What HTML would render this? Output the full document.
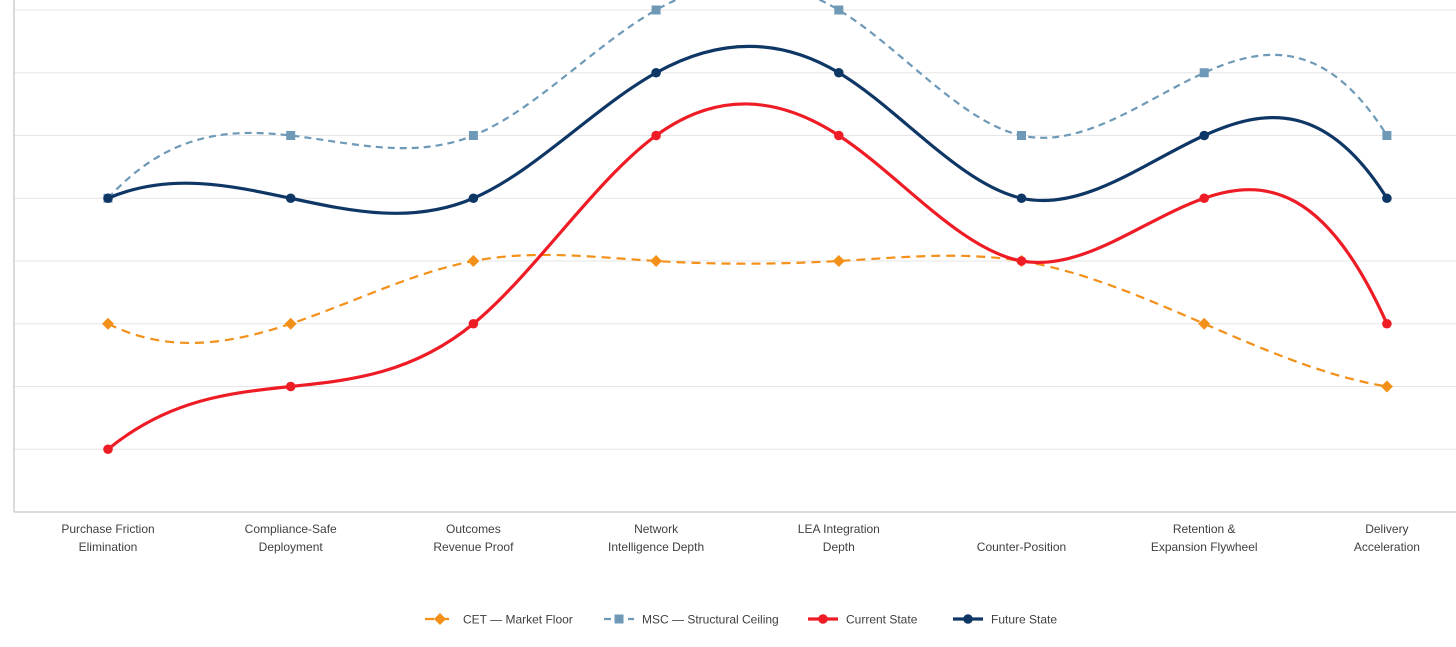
<!DOCTYPE html>
<html><head><meta charset="utf-8"><style>
html,body{margin:0;padding:0;background:#fff;}
svg{display:block;font-family:"Liberation Sans",sans-serif;}
</style></head><body>
<svg id="chart" width="1456" height="647"></svg>
<script>
const categories = [["Purchase Friction","Elimination"],["Compliance-Safe","Deployment"],["Outcomes","Revenue Proof"],["Network","Intelligence Depth"],["LEA Integration","Depth"],["Counter-Position"],["Retention &","Expansion Flywheel"],["Delivery","Acceleration"]];
const cetValues = [3,3,4,4,4,4,3,2];
const mscValues = [5,6,6,8,8,6,7,6];
const currentValues = [1,2,3,6,6,4,5,3];
const futureValues = [5,5,5,7,7,5,6,5];
const gridTicks = [1,2,3,4,5,6,7,8];

const NS="http://www.w3.org/2000/svg";
const svg=document.getElementById('chart');
function el(tag,attrs,parent){const e=document.createElementNS(NS,tag);for(const k in attrs)e.setAttribute(k,attrs[k]);(parent||svg).appendChild(e);return e;}
const x0=108, dx=182.7;
function xScale(i){return x0+i*dx;}
function yScale(v){return 512-v*62.75;}

gridTicks.forEach(t=>{
  const g=el('line',{x1:14,x2:1456,y1:yScale(t),y2:yScale(t),stroke:'#e6e6e6','stroke-width':1});
  
  
});
const ax=el('line',{x1:14,x2:1456,y1:512,y2:512,stroke:'#cfcfcf','stroke-width':1.5});


const ay=el('line',{x1:14,x2:14,y1:0,y2:512,stroke:'#cfcfcf','stroke-width':1.5});



categories.forEach((c,i)=>{
  const t=el('text',{x:xScale(i),y:c.length>1?533:551,'text-anchor':'middle','font-size':12,fill:'#404040'});
  
  
  c.forEach((line,j)=>{const s=el('tspan',{x:xScale(i),dy:j?18:0},t);s.textContent=line;});
});

// not-a-knot cubic spline
function solve(A,b){
  const n=b.length;
  for(let i=0;i<n;i++){
    let p=i;for(let r=i+1;r<n;r++)if(Math.abs(A[r][i])>Math.abs(A[p][i]))p=r;
    [A[i],A[p]]=[A[p],A[i]];[b[i],b[p]]=[b[p],b[i]];
    for(let r=i+1;r<n;r++){const f=A[r][i]/A[i][i];for(let c=i;c<n;c++)A[r][c]-=f*A[i][c];b[r]-=f*b[i];}
  }
  const x=new Array(n).fill(0);
  for(let i=n-1;i>=0;i--){let s=b[i];for(let c=i+1;c<n;c++)s-=A[i][c]*x[c];x[i]=s/A[i][i];}
  return x;
}
function path(vals){
  const n=vals.length, h=dx;
  const y=vals.map(v=>yScale(v));
  const A=[],b=[];
  for(let i=0;i<n;i++){A.push(new Array(n).fill(0));b.push(0);}
  A[0][0]=1;A[0][1]=-2;A[0][2]=1;
  A[n-1][n-3]=1;A[n-1][n-2]=-2;A[n-1][n-1]=1;
  for(let i=1;i<n-1;i++){A[i][i-1]=1;A[i][i]=4;A[i][i+1]=1;b[i]=6*(y[i+1]-2*y[i]+y[i-1])/(h*h);}
  const M=solve(A,b);
  let dstr=`M${xScale(0)},${y[0]}`;
  for(let i=0;i<n-1;i++){
    const s0=(y[i+1]-y[i])/h-h*(2*M[i]+M[i+1])/6;
    const s1=(y[i+1]-y[i])/h+h*(M[i]+2*M[i+1])/6;
    const xa=xScale(i),xb=xScale(i+1);
    dstr+=`C${xa+h/3},${y[i]+s0*h/3} ${xb-h/3},${y[i+1]-s1*h/3} ${xb},${y[i+1]}`;
  }
  return dstr;
}
function marker(type,x,y,color,parent){
  if(type==='diamond')return el('path',{d:`M${x},${y-6}L${x+6},${y}L${x},${y+6}L${x-6},${y}Z`,fill:color},parent);
  if(type==='square')return el('rect',{x:x-4.5,y:y-4.5,width:9,height:9,fill:color},parent);
  return el('circle',{cx:x,cy:y,r:4.8,fill:color},parent);
}
const series=[
  {name:'cet',label:'CET — Market Floor',vals:cetValues,color:'#F39019',w:2.2,dash:'9,6',m:'diamond'},
  {name:'msc',label:'MSC — Structural Ceiling',vals:mscValues,color:'#6E9AB8',w:2.2,dash:'7,5',m:'square'},
  {name:'current',label:'Current State',vals:currentValues,color:'#EE1C25',w:3.2,dash:null,m:'circle'},
  {name:'future',label:'Future State',vals:futureValues,color:'#0E3766',w:3.2,dash:null,m:'circle'}
];
series.forEach(s=>{
  const g=el('g',{});
  
  
  const a={d:path(s.vals),fill:'none',stroke:s.color,'stroke-width':s.w};
  if(s.dash)a['stroke-dasharray']=s.dash;
  const l=el('path',a,g);
  
  
  s.vals.forEach((v,i)=>{
    const mk=marker(s.m,xScale(i),yScale(v),s.color,g);
    
    
  });
});
const legendX=[425,604,808,953];
series.forEach((s,i)=>{
  const g=el('g',{});
  
  
  const x=legendX[i],y=619;
  const a={x1:x,x2:x+30,y1:y,y2:y,stroke:s.color,'stroke-width':s.dash?2.2:3.2};
  if(s.dash)a['stroke-dasharray']=s.dash;
  el('line',a,g);
  marker(s.m,x+15,y,s.color,g);
  const t=el('text',{x:x+38,y:y+4.5,'font-size':12,fill:'#404040'},g);
  t.textContent=s.label;
});
</script>
</body></html>
